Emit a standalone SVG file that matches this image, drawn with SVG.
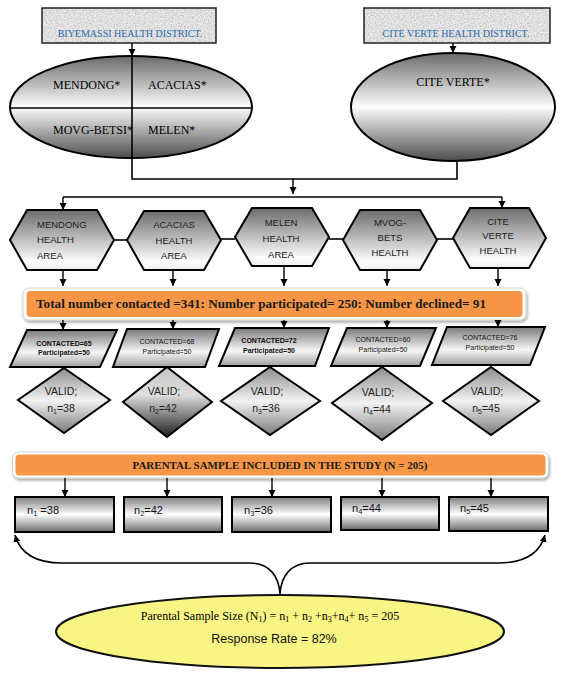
<svg xmlns="http://www.w3.org/2000/svg" width="566" height="676" viewBox="0 0 566 676">
<style>
.sh{stroke:#000;stroke-width:2}
.ln{stroke:#000;stroke-width:1.6;fill:none}
.arr{stroke:#000;stroke-width:1.4;fill:none;marker-end:url(#ah)}
.tnr{font-family:"Liberation Serif","Times New Roman",serif;fill:#000}
.cal{font-family:"Liberation Sans",Arial,sans-serif;fill:#111}
.dist{font-family:"Liberation Serif","Times New Roman",serif;font-size:10px;fill:#2e6aa8}
.hx{font-family:"Liberation Sans",Arial,sans-serif;font-size:9.5px;fill:#222}
.pt{font-family:"Liberation Sans",Arial,sans-serif;font-size:7px;fill:#111}
.ptb{font-family:"Liberation Sans",Arial,sans-serif;font-size:7px;font-weight:bold;fill:#111}
.vt{font-family:"Liberation Sans",Arial,sans-serif;font-size:10.5px;fill:#222}
.nt{font-family:"Liberation Sans",Arial,sans-serif;font-size:11px;fill:#111}
.bar{font-family:"Liberation Serif","Times New Roman",serif;font-weight:bold;fill:#1a1a1a}
</style>
<defs>
<marker id="ah" markerUnits="userSpaceOnUse" markerWidth="8" markerHeight="8" refX="7" refY="4" orient="auto-start-reverse">
<path d="M0,0.5 L7,4 L0,7.5 z" fill="#000"/>
</marker>
<linearGradient id="gHex" x1="0" y1="0" x2="0" y2="1">
<stop offset="0" stop-color="#6c6c6c"/><stop offset="0.85" stop-color="#fbfbfb"/><stop offset="1" stop-color="#f0f0f0"/>
</linearGradient>
<linearGradient id="gEll" x1="0" y1="0" x2="0" y2="1">
<stop offset="0" stop-color="#6a6a6a"/><stop offset="0.5" stop-color="#fdfdfd"/><stop offset="1" stop-color="#4c4c4c"/>
</linearGradient>
<linearGradient id="gPar" x1="0" y1="0" x2="0" y2="1">
<stop offset="0" stop-color="#7a7a7a"/><stop offset="0.6" stop-color="#f6f6f6"/><stop offset="1" stop-color="#a0a0a0"/>
</linearGradient>
<linearGradient id="gDia" x1="0" y1="0" x2="0" y2="1">
<stop offset="0" stop-color="#8c8c8c"/><stop offset="0.5" stop-color="#f2f2f2"/><stop offset="1" stop-color="#7a7a7a"/>
</linearGradient>
<linearGradient id="gDia2" x1="0" y1="0" x2="0" y2="1">
<stop offset="0" stop-color="#c4c4c4"/><stop offset="0.4" stop-color="#dedede"/><stop offset="1" stop-color="#1e1e1e"/>
</linearGradient>
<linearGradient id="gRec" x1="0" y1="0" x2="0" y2="1">
<stop offset="0" stop-color="#7e7e7e"/><stop offset="0.5" stop-color="#ffffff"/><stop offset="1" stop-color="#6a6a6a"/>
</linearGradient>
<filter id="granite" x="0" y="0" width="100%" height="100%">
<feTurbulence type="fractalNoise" baseFrequency="0.65" numOctaves="3" seed="3" result="n"/>
<feColorMatrix in="n" type="matrix" values="0 0 0 0 0.55  0 0 0 0 0.55  0 0 0 0 0.55  0 0 0 -2.2 1.45" result="g"/>
<feComposite in="g" in2="SourceGraphic" operator="in" result="gm"/>
<feMerge><feMergeNode in="SourceGraphic"/><feMergeNode in="gm"/></feMerge>
</filter>
<filter id="shadow" x="-5%" y="-30%" width="110%" height="170%">
<feDropShadow dx="1" dy="2" stdDeviation="1.5" flood-color="#000" flood-opacity="0.35"/>
</filter>
</defs>
<rect width="566" height="676" fill="#fff"/>

<g id="biyemassi-district">
<rect x="42" y="8" width="174" height="35" fill="#ececec" filter="url(#granite)"/>
<rect x="42" y="8" width="174" height="35" fill="none" stroke="#222" stroke-width="1.5"/>
<text class="dist" x="130" y="37" text-anchor="middle">BIYEMASSI HEALTH DISTRICT.</text>
</g>
<g id="cite-verte-district">
<rect x="364" y="8" width="186" height="35" fill="#ececec" filter="url(#granite)"/>
<rect x="364" y="8" width="186" height="35" fill="none" stroke="#222" stroke-width="1.5"/>
<text class="dist" x="456" y="37" text-anchor="middle">CITE VERTE HEALTH DISTRICT.</text>
</g>

<g id="biyemassi-areas">
<ellipse cx="131" cy="107" rx="121" ry="51" fill="url(#gEll)" class="sh"/>
<line x1="10" y1="108" x2="252" y2="108" class="ln"/>
<line x1="132" y1="56" x2="132" y2="158" class="ln"/>
<text class="tnr" font-size="12" x="53" y="89">MENDONG*</text>
<text class="tnr" font-size="12" x="148" y="89">ACACIAS*</text>
<text class="tnr" font-size="12" x="53" y="134">MOVG-BETSI*</text>
<text class="tnr" font-size="12" x="148" y="134">MELEN*</text>
</g>
<g id="cite-verte-area">
<ellipse cx="453" cy="107" rx="102" ry="54" fill="url(#gEll)" class="sh"/>
<text class="tnr" font-size="12" x="453" y="86" text-anchor="middle">CITE VERTE*</text>
</g>

<g id="hex1">
<polygon points="27,210 97,210 114,240 97,270 27,270 10,240" fill="url(#gHex)" class="sh"/>
<text class="hx" x="37" y="228">MENDONG</text>
<text class="hx" x="37" y="243">HEALTH</text>
<text class="hx" x="37" y="259">AREA</text>
</g>
<g id="hex2">
<polygon points="144,211 204,211 221,240 204,270 144,270 127,240" fill="url(#gHex)" class="sh"/>
<text class="hx" x="174" y="228" text-anchor="middle">ACACIAS</text>
<text class="hx" x="174" y="244" text-anchor="middle">HEALTH</text>
<text class="hx" x="174" y="259" text-anchor="middle">AREA</text>
</g>
<g id="hex3">
<polygon points="252,208 312,208 329,237 312,266 252,266 235,237" fill="url(#gHex)" class="sh"/>
<text class="hx" x="281" y="226" text-anchor="middle">MELEN</text>
<text class="hx" x="281" y="242" text-anchor="middle">HEALTH</text>
<text class="hx" x="281" y="258" text-anchor="middle">AREA</text>
</g>
<g id="hex4">
<polygon points="360,210 420,210 437,240 420,270 360,270 343,240" fill="url(#gHex)" class="sh"/>
<text class="hx" x="390" y="226" text-anchor="middle">MVOG-</text>
<text class="hx" x="390" y="241" text-anchor="middle">BETS</text>
<text class="hx" x="390" y="256" text-anchor="middle">HEALTH</text>
</g>
<g id="hex5">
<polygon points="470,208 529,208 546,238 529,268 470,268 453,238" fill="url(#gHex)" class="sh"/>
<text class="hx" x="498" y="225" text-anchor="middle">CITE</text>
<text class="hx" x="498" y="239" text-anchor="middle">VERTE</text>
<text class="hx" x="498" y="254" text-anchor="middle">HEALTH</text>
</g>

<g id="total-bar">
<rect x="23" y="288" width="503" height="32" rx="6" fill="#fff" stroke="#d4d4d4" stroke-width="1" filter="url(#shadow)"/>
<rect x="26.5" y="291" width="496" height="26" rx="4" fill="#f79646"/>
<text class="bar" font-size="13" x="36" y="308" textLength="450" lengthAdjust="spacingAndGlyphs">Total number contacted =341: Number participated= 250: Number declined= 91</text>
</g>

<g id="p1">
<polygon points="27,330 117,330 100,367 10,367" fill="url(#gPar)" class="sh"/>
<text class="ptb" x="64" y="346" text-anchor="middle">CONTACTED=65</text>
<text class="ptb" x="64" y="355" text-anchor="middle">Participated=50</text>
</g>
<g id="p2">
<polygon points="127,329 219,329 205,367 113,367" fill="url(#gPar)" class="sh"/>
<text class="pt" x="167" y="344" text-anchor="middle">CONTACTED=68</text>
<text class="pt" x="167" y="354" text-anchor="middle">Participated=50</text>
</g>
<g id="p3">
<polygon points="235,328 329,328 315,366 219,366" fill="url(#gPar)" class="sh"/>
<text class="ptb" x="269" y="343" text-anchor="middle">CONTACTED=72</text>
<text class="ptb" x="269" y="353" text-anchor="middle">Participated=50</text>
</g>
<g id="p4">
<polygon points="347,328 436,328 420,366 331,366" fill="url(#gPar)" class="sh"/>
<text class="pt" x="383" y="342" text-anchor="middle">CONTACTED=60</text>
<text class="pt" x="383" y="352" text-anchor="middle">Participated=50</text>
</g>
<g id="p5">
<polygon points="447,327 545,327 530,365 432,365" fill="url(#gPar)" class="sh"/>
<text class="pt" x="490" y="340" text-anchor="middle">CONTACTED=76</text>
<text class="pt" x="490" y="350" text-anchor="middle">Participated=50</text>
</g>

<g id="d1">
<polygon points="64,368 110,400 64,433 18,400" fill="url(#gDia)" class="sh"/>
<text class="vt" x="61" y="395" text-anchor="middle">VALID;</text>
<text class="vt" x="61" y="412" text-anchor="middle">n<tspan font-size="7" dy="2">1</tspan><tspan dy="-2">=38</tspan></text>
</g>
<g id="d2">
<polygon points="167,367 212,402 167,437 123,402" fill="url(#gDia2)" class="sh"/>
<text class="vt" x="164" y="395" text-anchor="middle">VALID;</text>
<text class="vt" x="163" y="412" text-anchor="middle">n<tspan font-size="7" dy="2">2</tspan><tspan dy="-2">=42</tspan></text>
</g>
<g id="d3">
<polygon points="270,367 320,401 270,435 221,401" fill="url(#gDia)" class="sh"/>
<text class="vt" x="267" y="395" text-anchor="middle">VALID;</text>
<text class="vt" x="266" y="412" text-anchor="middle">n<tspan font-size="7" dy="2">3</tspan><tspan dy="-2">=36</tspan></text>
</g>
<g id="d4">
<polygon points="382,367 432,403 382,440 332,403" fill="url(#gDia)" class="sh"/>
<text class="vt" x="378" y="396" text-anchor="middle">VALID;</text>
<text class="vt" x="377" y="413" text-anchor="middle">n<tspan font-size="7" dy="2">4</tspan><tspan dy="-2">=44</tspan></text>
</g>
<g id="d5">
<polygon points="491,367 539,401 491,435 443,401" fill="url(#gDia)" class="sh"/>
<text class="vt" x="487" y="395" text-anchor="middle">VALID;</text>
<text class="vt" x="486" y="412" text-anchor="middle">n<tspan font-size="7" dy="2">5</tspan><tspan dy="-2">=45</tspan></text>
</g>

<g id="sample-bar">
<rect x="12.5" y="452" width="536" height="26" rx="6" fill="#fff" stroke="#d4d4d4" stroke-width="1" filter="url(#shadow)"/>
<rect x="15.5" y="454.5" width="530" height="21" rx="4" fill="#f79646"/>
<text class="bar" font-size="11" x="280" y="468.5" text-anchor="middle">PARENTAL SAMPLE INCLUDED IN THE STUDY (N = 205)</text>
</g>

<g id="r1">
<rect x="15" y="497" width="99" height="35" fill="url(#gRec)" class="sh"/>
<text class="nt" x="27" y="514">n<tspan font-size="7.5" dy="2">1</tspan><tspan dy="-2"> =38</tspan></text>
</g>
<g id="r2">
<rect x="124" y="497" width="98" height="35" fill="url(#gRec)" class="sh"/>
<text class="nt" x="134" y="514">n<tspan font-size="7.5" dy="2">2</tspan><tspan dy="-2">=42</tspan></text>
</g>
<g id="r3">
<rect x="232" y="497" width="99" height="35" fill="url(#gRec)" class="sh"/>
<text class="nt" x="244" y="514">n<tspan font-size="7.5" dy="2">3</tspan><tspan dy="-2">=36</tspan></text>
</g>
<g id="r4">
<rect x="341" y="497" width="98" height="33" fill="url(#gRec)" class="sh"/>
<text class="nt" x="352" y="512">n<tspan font-size="7.5" dy="2">4</tspan><tspan dy="-2">=44</tspan></text>
</g>
<g id="r5">
<rect x="449" y="497" width="99" height="34" fill="url(#gRec)" class="sh"/>
<text class="nt" x="460" y="512">n<tspan font-size="7.5" dy="2">5</tspan><tspan dy="-2">=45</tspan></text>
</g>

<g id="result">
<ellipse cx="280" cy="631.5" rx="224" ry="36.5" fill="#f8f584" stroke="#111" stroke-width="2"/>
<text class="tnr" font-size="12" x="270" y="620" text-anchor="middle">Parental Sample Size (N<tspan font-size="8" dy="2">1</tspan><tspan dy="-2">) = n</tspan><tspan font-size="8" dy="2">1</tspan><tspan dy="-2"> + n</tspan><tspan font-size="8" dy="2">2</tspan><tspan dy="-2"> +n</tspan><tspan font-size="8" dy="2">3</tspan><tspan dy="-2">+n</tspan><tspan font-size="8" dy="2">4</tspan><tspan dy="-2">+ n</tspan><tspan font-size="8" dy="2">5</tspan><tspan dy="-2"> = 205</tspan></text>
<text class="cal" font-size="12.5" x="274" y="643" text-anchor="middle">Response Rate = 82%</text>
</g>

<g id="connectors">
<line x1="132" y1="43" x2="132" y2="56" class="arr"/>
<line x1="453" y1="43" x2="453" y2="53" class="arr"/>
<polyline points="132,158 132,179 457,179 457,160" class="ln"/>
<line x1="293" y1="179" x2="293" y2="194" class="arr"/>
<line x1="63" y1="197" x2="502" y2="197" class="ln"/>
<line x1="63" y1="197" x2="63" y2="210" class="arr"/>
<line x1="502" y1="197" x2="502" y2="208" class="arr"/>
<line x1="114" y1="240" x2="127" y2="240" class="ln"/>
<line x1="221" y1="239" x2="235" y2="239" class="ln"/>
<line x1="329" y1="239" x2="343" y2="239" class="ln"/>
<line x1="437" y1="239" x2="453" y2="239" class="ln"/>
<line x1="63" y1="270" x2="63" y2="286" class="arr"/>
<line x1="173" y1="270" x2="173" y2="286" class="arr"/>
<line x1="284" y1="266" x2="284" y2="286" class="arr"/>
<line x1="387" y1="270" x2="387" y2="286" class="arr"/>
<line x1="498" y1="268" x2="498" y2="286" class="arr"/>
<line x1="63" y1="320" x2="63" y2="330" class="arr"/>
<line x1="173" y1="320" x2="173" y2="329" class="arr"/>
<line x1="284" y1="320" x2="284" y2="328" class="arr"/>
<line x1="387" y1="320" x2="387" y2="328" class="arr"/>
<line x1="498" y1="320" x2="498" y2="327" class="arr"/>
<line x1="65" y1="478" x2="65" y2="497" class="arr"/>
<line x1="167" y1="478" x2="167" y2="497" class="arr"/>
<line x1="272" y1="478" x2="272" y2="497" class="arr"/>
<line x1="382" y1="478" x2="382" y2="497" class="arr"/>
<line x1="491" y1="478" x2="491" y2="497" class="arr"/>
<path d="M280,594 C279,577 270,563 250,563 L62,563 C36,563 20,553 15,535" class="ln" marker-end="url(#ah)"/>
<path d="M280,594 C281,577 290,563 310,563 L498,563 C524,563 540,553 545,535" class="ln" marker-end="url(#ah)"/>
</g>
</svg>
